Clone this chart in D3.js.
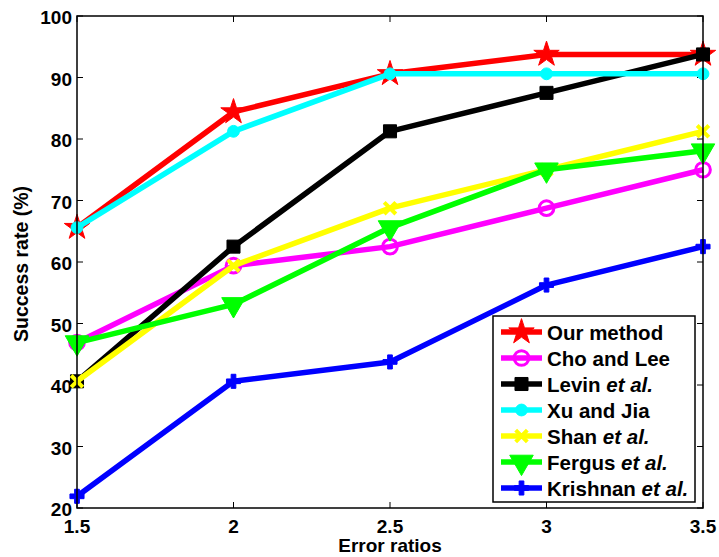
<!DOCTYPE html>
<html>
<head>
<meta charset="utf-8">
<script src="https://cdn.jsdelivr.net/npm/d3@7"></script>
<style>
  body { margin: 0; background: #fff; }
  svg { font-family: "Liberation Sans", Arial, sans-serif; font-weight: bold; }
</style>
</head>
<body>
<div id="chart"></div>
<script>
const ratios = [1.5, 2, 2.5, 3, 3.5];
const ourMethod = [65.6, 84.4, 90.6, 93.75, 93.75];
const choLee = [46.9, 59.4, 62.5, 68.75, 75];
const levin = [40.6, 62.5, 81.25, 87.5, 93.75];
const xuJia = [65.6, 81.25, 90.6, 90.6, 90.6];
const shan = [40.6, 59.4, 68.75, 75, 81.25];
const fergus = [46.9, 53.1, 65.6, 75, 78.1];
const krishnan = [21.9, 40.6, 43.75, 56.25, 62.5];
const yTicks = [20, 30, 40, 50, 60, 70, 80, 90, 100];
const xTicks = [1.5, 2, 2.5, 3, 3.5];

const series = [
    {name: "Our method", etal: false, values: ourMethod, color: "#ff0000", marker: "star"},
    {name: "Cho and Lee", etal: false, values: choLee, color: "#ff00ff", marker: "circleOpen"},
    {name: "Levin", etal: true, values: levin, color: "#000000", marker: "square"},
    {name: "Xu and Jia", etal: false, values: xuJia, color: "#00ffff", marker: "circle"},
    {name: "Shan", etal: true, values: shan, color: "#ffff00", marker: "x"},
    {name: "Fergus", etal: true, values: fergus, color: "#00ff00", marker: "triDown"},
    {name: "Krishnan", etal: true, values: krishnan, color: "#0000ff", marker: "plus"}
];

const W = 719, H = 557;
const m = {left: 77, right: 16, top: 16, bottom: 49};
const iw = W - m.left - m.right, ih = H - m.top - m.bottom;

const svg = d3.select("#chart").append("svg")
    .attr("width", W).attr("height", H);

const x = d3.scaleLinear().domain([1.5, 3.5]).range([m.left, m.left + iw]);
const y = d3.scaleLinear().domain([20, 100]).range([m.top + ih, m.top]);

// ticks (inward) on all four sides
const axG = svg.append("g").attr("stroke", "#000").attr("stroke-width", 1);
const tl = 6;
yTicks.forEach(t => {
    axG.append("line").attr("x1", m.left).attr("x2", m.left + tl).attr("y1", y(t)).attr("y2", y(t));
    axG.append("line").attr("x1", m.left + iw).attr("x2", m.left + iw - tl).attr("y1", y(t)).attr("y2", y(t));
});
xTicks.forEach(t => {
    axG.append("line").attr("x1", x(t)).attr("x2", x(t)).attr("y1", m.top + ih).attr("y2", m.top + ih - tl);
    axG.append("line").attr("x1", x(t)).attr("x2", x(t)).attr("y1", m.top).attr("y2", m.top + tl);
});

svg.append("g").selectAll("text").data(yTicks).join("text")
    .attr("x", m.left - 5).attr("y", d => y(d) + 8)
    .attr("text-anchor", "end").attr("font-size", 19)
    .text(d => d);
svg.append("g").selectAll("text").data(xTicks).join("text")
    .attr("x", d => x(d)).attr("y", m.top + ih + 24.5)
    .attr("text-anchor", "middle").attr("font-size", 19)
    .text(d => d);

svg.append("text")
    .attr("x", x(2.5)).attr("y", 552)
    .attr("text-anchor", "middle").attr("font-size", 19)
    .text("Error ratios");
svg.append("text")
    .attr("transform", `translate(28,264) rotate(-90)`)
    .attr("text-anchor", "middle").attr("font-size", 19.5)
    .text("Success rate (%)");

function markerPath(type) {
    if (type === "star") return d3.symbol(d3.symbolStar, 200)();
    if (type === "circleOpen") return d3.symbol(d3.symbolCircle, 170)();
    if (type === "circle") return d3.symbol(d3.symbolCircle, 110)();
    if (type === "square") return d3.symbol(d3.symbolSquare, 170)();
    if (type === "x") return d3.symbol(d3.symbolTimes, 90)();
    if (type === "triDown") return d3.symbol(d3.symbolTriangle, 240)();
    if (type === "plus") return d3.symbol(d3.symbolCross, 110)();
}

function drawMarker(g, s, cx, cy) {
    const p = g.append("path")
        .attr("d", markerPath(s.marker))
        .attr("transform", `translate(${cx},${cy})` + (s.marker === "triDown" ? " rotate(180)" : ""));
    if (s.marker === "circleOpen" || s.marker === "x") {
        p.attr("fill", "none").attr("stroke", s.color).attr("stroke-width", s.marker === "x" ? 4 : 3);
    } else {
        p.attr("fill", s.color).attr("stroke", s.color).attr("stroke-width", 1);
    }
}

const line = d3.line().x((d, i) => x(ratios[i])).y(d => y(d));

series.forEach(s => {
    const g = svg.append("g");
    g.append("path")
        .attr("d", line(s.values))
        .attr("fill", "none")
        .attr("stroke", s.color)
        .attr("stroke-width", 5.5)
        .attr("stroke-linejoin", "round");
    s.values.forEach((v, i) => drawMarker(g, s, x(ratios[i]), y(v)));
});

// axes box
svg.append("rect")
    .attr("x", m.left).attr("y", m.top).attr("width", iw).attr("height", ih)
    .attr("fill", "none").attr("stroke", "#000").attr("stroke-width", 1.5);

// legend
const lg = svg.append("g");
const lx = 493, ly = 316, lw = 202, lh = 186;
lg.append("rect").attr("x", lx).attr("y", ly).attr("width", lw).attr("height", lh)
    .attr("fill", "#fff").attr("stroke", "#000").attr("stroke-width", 1.5);
series.forEach((s, i) => {
    const cy = 332 + i * 26;
    lg.append("line").attr("x1", 501).attr("x2", 542).attr("y1", cy).attr("y2", cy)
        .attr("stroke", s.color).attr("stroke-width", 5.5);
    drawMarker(lg, s, 521.5, cy);
    const t = lg.append("text").attr("x", 547).attr("y", cy + 7.5).attr("font-size", 20.5);
    t.append("tspan").text(s.name);
    if (s.etal) t.append("tspan").attr("font-style", "italic").text(" et al.");
});
</script>
</body>
</html>
